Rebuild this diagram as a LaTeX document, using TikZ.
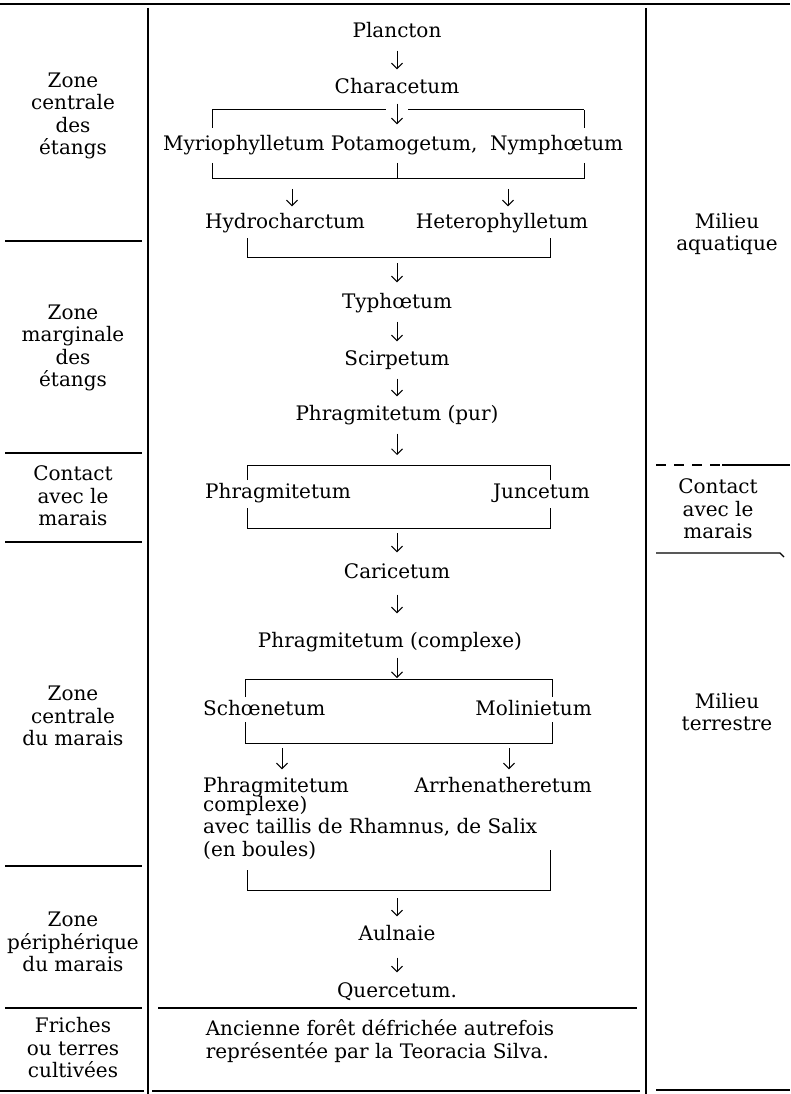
\documentclass[tikz,border=0pt]{standalone}
\usepackage{fontspec}
\setmainfont{DejaVu Serif}
\usetikzlibrary{arrows.meta}

\tikzset{
  txt/.style={inner sep=0pt, text height=15pt, text depth=4pt, font=\fontsize{20}{22.5}\selectfont},
  zone/.style={inner sep=0pt, align=center, font=\fontsize{20}{22.5}\selectfont},
  arr/.style={-{Straight Barb[length=5.5pt,width=11pt]}, line width=1pt, shorten <=9pt, shorten >=9pt},
  rule/.style={line width=1.3pt},
  tick/.style={line width=1pt},
}

\begin{document}
\begin{tikzpicture}[x=1pt,y=-1pt]
\useasboundingbox (0,0) rectangle (790,1094);
\draw[line width=2.2pt] (0,4) -- (790,4);
\draw[rule] (148,8) -- (148,1094);
\draw[rule] (646,8) -- (646,1094);
\draw[rule] (5,241) -- (142,241) (5,453) -- (142,453) (5,542) -- (142,542) (5,866) -- (142,866) (5,1008) -- (142,1008);
\draw[rule] (158,1008) -- (637,1008);
\draw[rule] (0,1091) -- (144,1091) (152,1091) -- (640,1091) (656,1090) -- (790,1090);
\draw[rule, dash pattern=on 10pt off 8pt] (656,465) -- (722,465);
\draw[rule] (722,465) -- (790,465);
\draw[rule] (656,553) -- (780,553) -- (784,557);

\node[zone] (zcetang) at (73,116) {Zone\\centrale\\des\\étangs};
\node[zone] (zmetang) at (73,348) {Zone\\marginale\\des\\étangs};
\node[zone] (zcontact) at (73,496) {Contact\\avec le\\marais};
\node[zone] (zcmarais) at (73,716) {Zone\\centrale\\du marais};
\node[zone] (zpmarais) at (73,942) {Zone\\périphérique\\du marais};
\node[zone] (zfriches) at (73,1048) {Friches\\ou terres\\cultivées};
\node[zone] (maqua) at (727,234) {Milieu\\aquatique};
\node[zone] (mcontact) at (718,509) {Contact\\avec le\\marais};
\node[zone] (mterre) at (727,712) {Milieu\\terrestre};

\node[txt] (plancton) at (397,32) {Plancton};
\node[txt] (characetum) at (397,88) {Characetum};
\node[txt, anchor=west] (myrio) at (163,145) {Myriophylletum Potamogetum,\ \ Nymphœtum};
\node[txt] (hydro) at (285,223) {Hydrocharctum};
\node[txt] (hetero) at (502,223) {Heterophylletum};
\node[txt] (typha) at (397,303) {Typhœtum};
\node[txt] (scirp) at (397,360) {Scirpetum};
\node[txt] (phpur) at (397,415) {Phragmitetum (pur)};
\node[txt, anchor=west] (phjun) at (205,493) {Phragmitetum};
\node[txt, anchor=east] (juncetum) at (590,493) {Juncetum};
\node[txt] (caricetum) at (397,573) {Caricetum};
\node[txt] (phcomp) at (390,642) {Phragmitetum (complexe)};
\node[txt, anchor=west] (schoen) at (203,710) {Schœnetum};
\node[txt, anchor=east] (molin) at (592,710) {Molinietum};
\node[txt, anchor=west] (phrhamn) at (203,787) {Phragmitetum};
\node[txt, anchor=east] (arrh) at (592,787) {Arrhenatheretum};
\node[zone, align=left, anchor=north west] (taillis) at (203,796) {complexe)\\avec taillis de Rhamnus, de Salix\\(en boules)};
\node[txt] (aulnaie) at (397,935) {Aulnaie};
\node[txt] (quercetum) at (397,992) {Quercetum.};
\node[zone, align=left] (ancienne) at (380,1041) {Ancienne forêt défrichée autrefois\\représentée par la Teoracia Silva.};

\draw[tick] (212,110) -- (386,110) (408,110) -- (584,110);
\draw[tick] (212,110) -- (212,128) (584,110) -- (584,128);
\draw[tick] (212,163) -- (212,179) (397,163) -- (397,179) (584,163) -- (584,179);
\draw[tick] (212,179) -- (584,179);
\draw[tick] (247,238) -- (247,257) -- (550,257) -- (550,238);
\draw[tick] (247,480) -- (247,465) -- (550,465) -- (550,480);
\draw[tick] (247,508) -- (247,528) -- (550,528) -- (550,508);
\draw[tick] (245,697) -- (245,679) -- (552,679) -- (552,697);
\draw[tick] (245,722) -- (245,743) -- (552,743) -- (552,722);
\draw[tick] (247,870) -- (247,890) -- (550,890) -- (550,850);

\coordinate (g1l) at (292,179);
\coordinate (g1r) at (508,179);
\coordinate (g2) at (397,257);
\coordinate (g3t) at (397,465);
\coordinate (g3b) at (397,528);
\coordinate (g4t) at (397,679);
\coordinate (g4l) at (282,743);
\coordinate (g4r) at (509,743);
\coordinate (g5) at (397,890);

\draw[arr] (plancton) -- (characetum);
\draw[arr, shorten <=6pt, shorten >=11pt] (characetum) -- (characetum |- myrio.north);
\draw[arr, shorten <=10pt, shorten >=7pt] (g1l) -- (g1l |- hydro.north);
\draw[arr, shorten <=10pt, shorten >=7pt] (g1r) -- (g1r |- hetero.north);
\draw[arr, shorten <=6pt, shorten >=11pt] (g2) -- (typha);
\draw[arr] (typha) -- (scirp);
\draw[arr] (scirp) -- (phpur);
\draw[arr, shorten >=10pt] (phpur) -- (g3t);
\draw[arr, shorten <=5pt, shorten >=11pt] (g3b) -- (caricetum);
\draw[arr, shorten <=12pt, shorten >=19pt] (caricetum) -- (caricetum |- phcomp.north);
\draw[arr, shorten <=6pt, shorten >=1pt] (caricetum |- phcomp.south) -- (g4t);
\draw[arr, shorten <=5pt, shorten >=8pt] (g4l) -- (g4l |- phrhamn.north);
\draw[arr, shorten <=5pt, shorten >=8pt] (g4r) -- (g4r |- arrh.north);
\draw[arr, shorten <=8pt, shorten >=9pt] (g5) -- (aulnaie);
\draw[arr, shorten <=13pt, shorten >=10pt] (aulnaie) -- (quercetum);
\end{tikzpicture}
\end{document}
